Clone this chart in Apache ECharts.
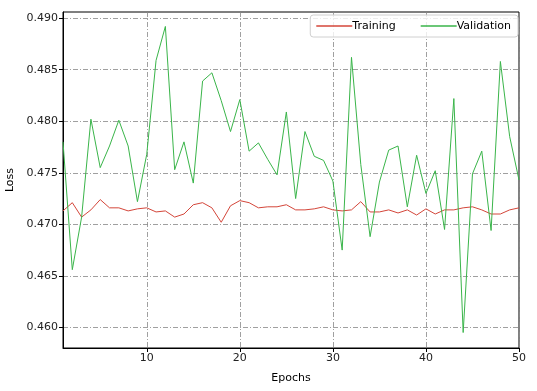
<!DOCTYPE html>
<html>
<head>
<meta charset="utf-8">
<script src="https://cdn.jsdelivr.net/npm/echarts@6/dist/echarts.min.js"></script>
<style>html,body{margin:0;padding:0;background:#fff}#c{width:537px;height:391px}</style>
</head>
<body>
<div id="c"></div>
<script>
const epochs = Array.from({length: 50}, (_, i) => i + 1);
const training = [
  0.4713, 0.4721, 0.4707, 0.4714, 0.4724, 0.4716, 0.4716, 0.4713, 0.4715, 0.4716,
  0.4712, 0.4713, 0.4707, 0.4710, 0.4719, 0.4721, 0.4716, 0.4702, 0.4718, 0.4723,
  0.4721, 0.4716, 0.4717, 0.4717, 0.4719, 0.4714, 0.4714, 0.4715, 0.4717, 0.4714,
  0.4713, 0.4714, 0.4722, 0.4712, 0.4712, 0.4714, 0.4711, 0.4714, 0.4709, 0.4715,
  0.4710, 0.4714, 0.4714, 0.4716, 0.4717, 0.4714, 0.4710, 0.4710, 0.4714, 0.4716
];
const validation = [
  0.4780, 0.4656, 0.4707, 0.4802, 0.4755, 0.4776, 0.4801, 0.4776, 0.4722, 0.4768,
  0.4859, 0.4892, 0.4753, 0.4780, 0.4740, 0.4839, 0.4847, 0.4820, 0.4790, 0.4821,
  0.4771, 0.4779, 0.4763, 0.4748, 0.4809, 0.4725, 0.4790, 0.4766, 0.4762, 0.4742,
  0.4675, 0.4862, 0.4758, 0.4688, 0.4741, 0.4772, 0.4776, 0.4717, 0.4767, 0.4730,
  0.4752, 0.4695, 0.4822, 0.4595, 0.4749, 0.4771, 0.4694, 0.4858, 0.4785, 0.4743
];
const xTicks = [10, 20, 30, 40, 50];
const yTicks = [0.460, 0.465, 0.470, 0.475, 0.480, 0.485, 0.490];

const font = 'DejaVu Sans';
const gridLine = {show: true, lineStyle: {color: '#888', width: 0.8, type: [5, 2, 1, 2]}};
const chart = echarts.init(document.getElementById('c'), null, {renderer: 'canvas'});
chart.setOption({
  animation: false,
  backgroundColor: '#fff',
  textStyle: {fontFamily: font},
  grid: {left: 63, right: 18, top: 12, bottom: 43, outerBoundsMode: 'none', containLabel: false,
    show: true, borderColor: '#000', borderWidth: 1, backgroundColor: 'transparent'},
  legend: {
    right: 19, top: 15,
    orient: 'horizontal',
    itemWidth: 36, itemHeight: 1.5, itemGap: 25,
    padding: [5, 7, 5, 6],
    borderColor: '#d0d0d0', borderWidth: 1, borderRadius: 3,
    backgroundColor: 'rgba(255,255,255,0.8)',
    textStyle: {fontFamily: font, fontSize: 11, color: '#000', padding: [0, 0, 0, -5], lineHeight: 12},
    data: [{name: 'Training', icon: 'rect'}, {name: 'Validation', icon: 'rect'}]
  },
  xAxis: {
    type: 'value', min: 1, max: 50,
    name: 'Epochs', nameLocation: 'middle', nameGap: 25,
    nameTextStyle: {fontFamily: font, fontSize: 11, color: '#000'},
    axisLine: {show: true, lineStyle: {color: '#000', width: 1}},
    axisTick: {show: true, customValues: xTicks, length: 4, lineStyle: {color: '#000'}},
    axisLabel: {customValues: xTicks, fontFamily: font, fontSize: 11, color: '#222', margin: 5},
    splitLine: gridLine
  },
  yAxis: {
    type: 'value', min: 0.4580, max: 0.4906,
    name: 'Loss', nameLocation: 'middle', nameGap: 45,
    nameTextStyle: {fontFamily: font, fontSize: 11, color: '#000'},
    axisLine: {show: true, lineStyle: {color: '#000', width: 1}},
    axisTick: {show: true, customValues: yTicks, length: 4, lineStyle: {color: '#000'}},
    axisLabel: {customValues: yTicks, fontFamily: font, fontSize: 11, color: '#222', margin: 5,
      formatter: v => v.toFixed(3)},
    splitLine: gridLine
  },
  series: [
    {name: 'Training', type: 'line', symbol: 'none', data: epochs.map((e, i) => [e, training[i]]),
      color: '#d4463a', lineStyle: {width: 1, color: '#d4463a'}},
    {name: 'Validation', type: 'line', symbol: 'none', data: epochs.map((e, i) => [e, validation[i]]),
      color: '#3ab54a', lineStyle: {width: 1, color: '#3ab54a'}}
  ]
});
</script>
</body>
</html>
